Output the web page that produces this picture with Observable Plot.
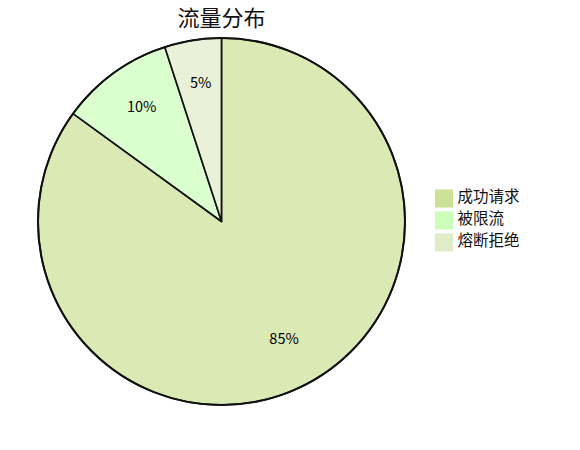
<!DOCTYPE html>
<html>
<head>
<meta charset="utf-8">
<script src="https://cdn.jsdelivr.net/npm/d3@7"></script>
<script src="https://cdn.jsdelivr.net/npm/@observablehq/plot@0.6"></script>
<style>
  html, body { margin: 0; padding: 0; background: #fff; }
  #wrap { width: 580px; position: relative; font-family: "Noto Sans CJK SC", "Noto Sans", sans-serif; }
  #title { width: 443px; height: 32px; line-height: 32px; text-align: center; font-size: 22px; color: #111; }
</style>
</head>
<body>
<div id="wrap">
  <div id="title">流量分布</div>
</div>
<script>
const categories = ["成功请求", "被限流", "熔断拒绝"];
const values = [85, 10, 5];
const labels = ["85%", "10%", "5%"];
const colors = ["#cce096", "#ccffbb", "#e0ecc8"];

const W = 580, H = 418;
const CX = 221.5, CY = 189.5, R = 183.5;
const LABEL_R = 0.745 * R;

const data = categories.map((c, i) => ({category: c, value: values[i], label: labels[i], color: colors[i]}));
const arcs = d3.pie().sort(null).value(d => d.value)(data);
arcs.forEach(a => {
  const mid = (a.startAngle + a.endAngle) / 2;
  a.lx = CX + Math.sin(mid) * LABEL_R;
  a.ly = CY - Math.cos(mid) * LABEL_R;
});

const legendX = 443.5, legendY0 = 166, legendStep = 22;
const legend = categories.map((c, i) => ({category: c, color: colors[i], x: legendX, y: legendY0 + i * legendStep}));

function pieMark(index, scales) {
  const cx = scales.x(CX), cy = scales.y(CY);
  const r = scales.x(CX + R) - cx;
  const arcGen = d3.arc().innerRadius(0).outerRadius(r);
  const g = d3.create("svg:g").attr("transform", `translate(${cx},${cy})`);
  g.selectAll("path").data(arcs).join("path")
    .attr("d", arcGen)
    .attr("fill", d => d.data.color)
    .attr("fill-opacity", 0.7)
    .attr("stroke", "#111")
    .attr("stroke-width", 1.6)
    .attr("stroke-linejoin", "round");
  g.append("circle").attr("r", r).attr("fill", "none").attr("stroke", "#111").attr("stroke-width", 2);
  return g.node();
}

const chart = Plot.plot({
  width: W,
  height: H,
  margin: 0,
  x: {domain: [0, W], range: [0, W], axis: null},
  y: {domain: [0, H], range: [0, H], axis: null},
  style: {fontFamily: '"Noto Sans CJK SC", "Noto Sans", sans-serif', background: "#fff"},
  marks: [
    pieMark,
    Plot.text(arcs, {x: "lx", y: "ly", text: d => d.data.label, fontSize: 14.5, fill: "#000", dy: -4}),
    Plot.dot(legend, {x: "x", y: "y", symbol: "square", r: 10.2, fill: "color", stroke: null}),
    Plot.text(legend, {x: d => d.x + 13.5, y: "y", text: "category", textAnchor: "start", fontSize: 15.5, fill: "#111", dy: -1})
  ]
});
document.getElementById("wrap").appendChild(chart);
</script>
</body>
</html>
